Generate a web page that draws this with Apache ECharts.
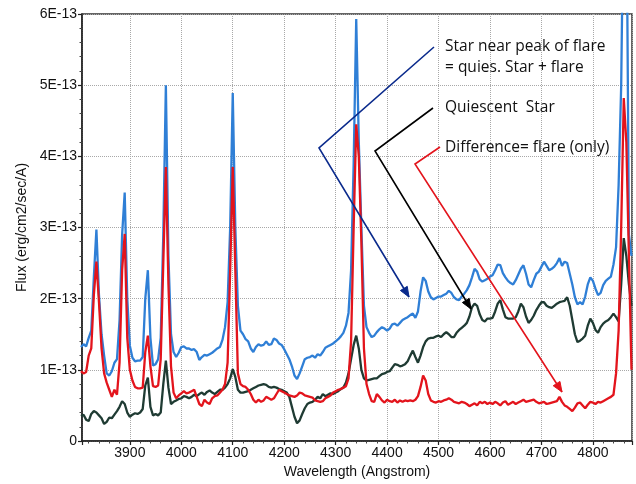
<!DOCTYPE html>
<html>
<head>
<meta charset="utf-8">
<script src="https://cdn.jsdelivr.net/npm/echarts@6/dist/echarts.min.js"></script>
<style>
  html, body { margin: 0; padding: 0; background: #ffffff; }
  #chart { width: 636px; height: 484px; }
</style>
</head>
<body>
<div id="chart"></div>
<script>
// Wavelength samples (Angstrom), 5 A apart
const wavelengths = [
  3805,3810,3815,3820,3825,3830,3835,3840,3845,3850,3855,3860,3865,3870,3875,3880,3885,3890,3895,3900,
  3905,3910,3915,3920,3925,3930,3935,3940,3945,3950,3955,3960,3965,3970,3975,3980,3985,3990,3995,4000,
  4005,4010,4015,4020,4025,4030,4035,4040,4045,4050,4055,4060,4065,4070,4075,4080,4085,4090,4095,4100,
  4105,4110,4115,4120,4125,4130,4135,4140,4145,4150,4155,4160,4165,4170,4175,4180,4185,4190,4195,4200,
  4205,4210,4215,4220,4225,4230,4235,4240,4245,4250,4255,4260,4265,4270,4275,4280,4285,4290,4295,4300,
  4305,4310,4315,4320,4325,4330,4335,4340,4345,4350,4355,4360,4365,4370,4375,4380,4385,4390,4395,4400,
  4405,4410,4415,4420,4425,4430,4435,4440,4445,4450,4455,4460,4465,4470,4475,4480,4485,4490,4495,4500,
  4505,4510,4515,4520,4525,4530,4535,4540,4545,4550,4555,4560,4565,4570,4575,4580,4585,4590,4595,4600,
  4605,4610,4615,4620,4625,4630,4635,4640,4645,4650,4655,4660,4665,4670,4675,4680,4685,4690,4695,4700,
  4705,4710,4715,4720,4725,4730,4735,4740,4745,4750,4755,4760,4765,4770,4775,4780,4785,4790,4795,4800,
  4805,4810,4815,4820,4825,4830,4835,4840,4845,4850,4855,4860,4865,4870,4875
];

// Flux in units of 1E-13 erg/cm2/sec/A
const flareStar = [
  1.32,1.36,1.33,1.45,1.55,2.30,2.97,2.05,1.50,1.20,0.95,0.92,0.98,1.10,1.15,1.70,2.90,3.49,2.00,1.34,
  1.17,1.12,1.13,1.13,1.18,2.00,2.40,1.45,1.06,1.08,1.15,1.45,2.90,5.00,2.60,1.50,1.25,1.18,1.24,1.32,
  1.33,1.30,1.30,1.28,1.29,1.25,1.14,1.18,1.21,1.20,1.22,1.24,1.27,1.30,1.32,1.42,1.60,1.95,3.00,4.89,
  3.00,1.90,1.55,1.50,1.43,1.40,1.30,1.25,1.32,1.36,1.34,1.35,1.40,1.35,1.36,1.44,1.42,1.37,1.35,1.29,
  1.22,1.15,1.05,0.92,0.87,0.95,1.05,1.15,1.17,1.18,1.20,1.17,1.22,1.20,1.25,1.31,1.33,1.35,1.37,1.40,
  1.43,1.47,1.52,1.62,1.80,2.40,3.90,5.93,4.20,3.00,1.90,1.60,1.52,1.46,1.48,1.53,1.57,1.60,1.58,1.55,
  1.58,1.64,1.65,1.62,1.66,1.70,1.72,1.74,1.77,1.79,1.73,1.82,2.10,2.30,2.25,2.10,2.02,1.99,2.01,2.03,
  2.03,2.05,2.07,2.11,2.08,2.02,1.99,1.98,2.03,2.07,2.12,2.19,2.30,2.42,2.38,2.27,2.24,2.26,2.28,2.31,
  2.33,2.40,2.48,2.47,2.36,2.30,2.25,2.22,2.20,2.26,2.34,2.42,2.47,2.35,2.20,2.16,2.26,2.35,2.38,2.45,
  2.52,2.46,2.40,2.42,2.45,2.50,2.57,2.46,2.52,2.50,2.35,2.20,2.02,1.92,1.95,1.92,2.03,2.20,2.30,2.25,
  2.14,2.05,2.08,2.19,2.25,2.28,2.31,2.48,2.72,3.60,5.00,8.00,8.00,2.90,2.60
];

const quiescentStar = [
  0.35,0.37,0.30,0.28,0.38,0.42,0.40,0.36,0.32,0.24,0.27,0.33,0.32,0.37,0.42,0.48,0.56,0.52,0.40,0.34,
  0.37,0.39,0.38,0.40,0.45,0.78,0.89,0.48,0.36,0.38,0.36,0.40,0.80,1.13,0.75,0.52,0.55,0.57,0.59,0.60,
  0.63,0.62,0.60,0.62,0.65,0.63,0.66,0.68,0.65,0.69,0.71,0.68,0.66,0.69,0.72,0.72,0.75,0.80,0.88,1.01,
  0.90,0.72,0.68,0.68,0.69,0.70,0.72,0.74,0.76,0.78,0.79,0.80,0.79,0.76,0.75,0.76,0.75,0.73,0.72,0.70,
  0.68,0.62,0.48,0.34,0.25,0.29,0.38,0.46,0.52,0.54,0.55,0.58,0.62,0.60,0.66,0.63,0.65,0.67,0.66,0.68,
  0.70,0.73,0.75,0.82,0.95,1.15,1.35,1.48,1.30,1.00,0.88,0.85,0.86,0.87,0.88,0.88,0.91,0.94,0.95,0.97,
  0.98,1.03,1.08,1.07,1.05,1.06,1.08,1.12,1.20,1.27,1.18,1.10,1.20,1.32,1.40,1.44,1.45,1.45,1.47,1.48,
  1.46,1.50,1.53,1.50,1.46,1.46,1.52,1.56,1.59,1.62,1.66,1.75,1.88,1.93,1.90,1.78,1.70,1.68,1.72,1.72,
  1.73,1.82,1.93,1.98,1.85,1.74,1.72,1.72,1.72,1.74,1.82,1.93,1.88,1.75,1.66,1.70,1.76,1.84,1.90,1.95,
  1.95,1.90,1.88,1.87,1.90,1.93,1.95,1.96,1.97,2.02,1.90,1.70,1.50,1.39,1.41,1.44,1.48,1.62,1.72,1.66,
  1.56,1.52,1.60,1.65,1.68,1.70,1.74,1.79,1.74,1.68,2.20,2.85,2.60,2.20,1.90
];

const flareOnly = [
  0.98,0.95,0.97,1.20,1.30,2.05,2.52,1.95,1.30,0.95,0.82,0.72,0.62,0.72,0.65,1.10,2.40,2.91,1.45,1.00,
  0.85,0.76,0.74,0.74,0.75,1.25,1.48,1.05,0.77,0.76,0.78,1.15,2.50,3.85,2.20,1.05,0.68,0.60,0.64,0.67,
  0.70,0.67,0.68,0.70,0.72,0.62,0.52,0.49,0.58,0.54,0.52,0.60,0.63,0.64,0.68,0.72,0.80,1.10,2.40,3.85,
  2.40,0.95,0.80,0.77,0.76,0.72,0.66,0.58,0.54,0.58,0.55,0.57,0.62,0.60,0.58,0.60,0.66,0.72,0.70,0.68,
  0.66,0.64,0.63,0.62,0.64,0.68,0.67,0.64,0.63,0.62,0.61,0.57,0.56,0.55,0.56,0.60,0.62,0.64,0.68,0.70,
  0.72,0.73,0.75,0.77,0.88,1.40,3.00,4.45,4.00,2.80,1.30,0.80,0.66,0.56,0.55,0.66,0.62,0.57,0.54,0.58,
  0.56,0.55,0.58,0.54,0.57,0.55,0.57,0.56,0.57,0.56,0.58,0.63,0.76,0.92,0.85,0.66,0.57,0.55,0.54,0.56,
  0.55,0.57,0.58,0.60,0.58,0.55,0.54,0.53,0.55,0.54,0.52,0.49,0.51,0.53,0.50,0.55,0.53,0.55,0.52,0.54,
  0.52,0.55,0.53,0.50,0.54,0.56,0.51,0.53,0.55,0.52,0.54,0.56,0.58,0.55,0.56,0.57,0.58,0.55,0.53,0.54,
  0.55,0.52,0.53,0.54,0.55,0.56,0.62,0.55,0.50,0.48,0.45,0.42,0.47,0.53,0.54,0.50,0.46,0.51,0.55,0.54,
  0.52,0.55,0.54,0.56,0.58,0.60,0.62,0.65,0.95,1.55,3.00,4.82,4.20,2.60,1.00
];

const xTickStep = 100;                 // Angstrom between labelled ticks
const yTicks = [0, 1, 2, 3, 4, 5, 6];  // 1E-13 units

// Callout texts with their pointer lines (pixel positions in the 636x484 canvas)
const callouts = [
  { lines: ['Star near peak of flare', '= quies. Star + flare'], color: '#0a2a8c',
    anchor: [445, 47], path: [[434, 47], [319, 148], [409, 297]] },
  { lines: ['Quiescent  Star'], color: '#000000',
    anchor: [445, 108], path: [[433, 108], [375, 151], [471, 309]] },
  { lines: ['Difference= flare (only)'], color: '#e3141c',
    anchor: [445, 148], path: [[440, 147], [415, 164], [562, 392]] }
];

function pairs(ys) {
  return wavelengths.map((w, i) => [w, ys[i]]);
}

function arrowHead(p, q, len, half) {
  const dx = q[0] - p[0], dy = q[1] - p[1];
  const d = Math.hypot(dx, dy);
  const ux = dx / d, uy = dy / d;
  const bx = q[0] - ux * len, by = q[1] - uy * len;
  return [q, [bx - uy * half, by + ux * half], [bx + uy * half, by - ux * half]];
}

const graphics = [];
callouts.forEach(c => {
  const path = c.path;
  graphics.push({
    type: 'polyline', silent: true, z: 50,
    shape: { points: path },
    style: { stroke: c.color, lineWidth: 1.6, fill: null }
  });
  graphics.push({
    type: 'polygon', silent: true, z: 50,
    shape: { points: arrowHead(path[path.length - 2], path[path.length - 1], 10, 4) },
    style: { fill: c.color, stroke: c.color, lineWidth: 1 }
  });
  c.lines.forEach((t, j) => {
    graphics.push({
      type: 'text', silent: true, z: 50,
      x: c.anchor[0], y: c.anchor[1] + j * 21,
      style: { text: t, fill: '#111111', font: '15.5px "Open Sans", sans-serif',
               align: 'left', verticalAlign: 'middle' }
    });
  });
});

const axisFont = { color: '#111111', fontSize: 14, fontFamily: '"Liberation Sans", Arial, sans-serif' };

const chart = echarts.init(document.getElementById('chart'), null, { renderer: 'canvas' });
chart.setOption({
  animation: false,
  backgroundColor: '#ffffff',
  grid: { left: 82, right: 4, top: 14, bottom: 43, show: true, borderColor: '#333333', borderWidth: 1.5, backgroundColor: 'transparent' },
  xAxis: {
    type: 'value', min: 3807, max: 4876, splitNumber: 10,
    name: 'Wavelength (Angstrom)', nameLocation: 'middle', nameGap: 23,
    nameTextStyle: Object.assign({}, axisFont),
    axisLine: { show: true, lineStyle: { color: '#222222', width: 1.5 } },
    axisTick: { show: true, length: 4, lineStyle: { color: '#222222', width: 1.2 } },
    minorTick: { show: true, splitNumber: 5, length: 2.5, lineStyle: { color: '#444444', width: 1 } },
    axisLabel: Object.assign({ margin: 5, formatter: v => (v % xTickStep === 0 ? String(v) : '') }, axisFont),
    splitLine: { show: true, lineStyle: { color: '#a8a8a8', width: 1, type: 'dotted' } }
  },
  yAxis: {
    type: 'value', min: yTicks[0], max: yTicks[yTicks.length - 1], interval: 1,
    name: 'Flux (erg/cm2/sec/A)', nameLocation: 'middle', nameGap: 50, nameRotate: 90,
    nameTextStyle: Object.assign({}, axisFont),
    axisLine: { show: true, lineStyle: { color: '#222222', width: 1.5 } },
    axisTick: { show: true, length: 4, lineStyle: { color: '#222222', width: 1.2 } },
    minorTick: { show: true, splitNumber: 5, length: 2.5, lineStyle: { color: '#444444', width: 1 } },
    axisLabel: Object.assign({ margin: 5, formatter: v => (v === 0 ? '0' : v + 'E-13') }, axisFont),
    splitLine: { show: true, lineStyle: { color: '#a8a8a8', width: 1, type: 'dotted' } }
  },
  series: [
    { name: 'Star near peak of flare', type: 'line', data: pairs(flareStar), showSymbol: false,
      clip: true, lineStyle: { color: '#2f7fd6', width: 2.3 }, itemStyle: { color: '#2f7fd6' }, z: 2 },
    { name: 'Quiescent Star', type: 'line', data: pairs(quiescentStar), showSymbol: false,
      clip: true, lineStyle: { color: '#1f3b33', width: 2.3 }, itemStyle: { color: '#1f3b33' }, z: 3 },
    { name: 'Difference', type: 'line', data: pairs(flareOnly), showSymbol: false,
      clip: true, lineStyle: { color: '#e3141c', width: 2.3 }, itemStyle: { color: '#e3141c' }, z: 4 }
  ],
  graphic: graphics
});
</script>
</body>
</html>
